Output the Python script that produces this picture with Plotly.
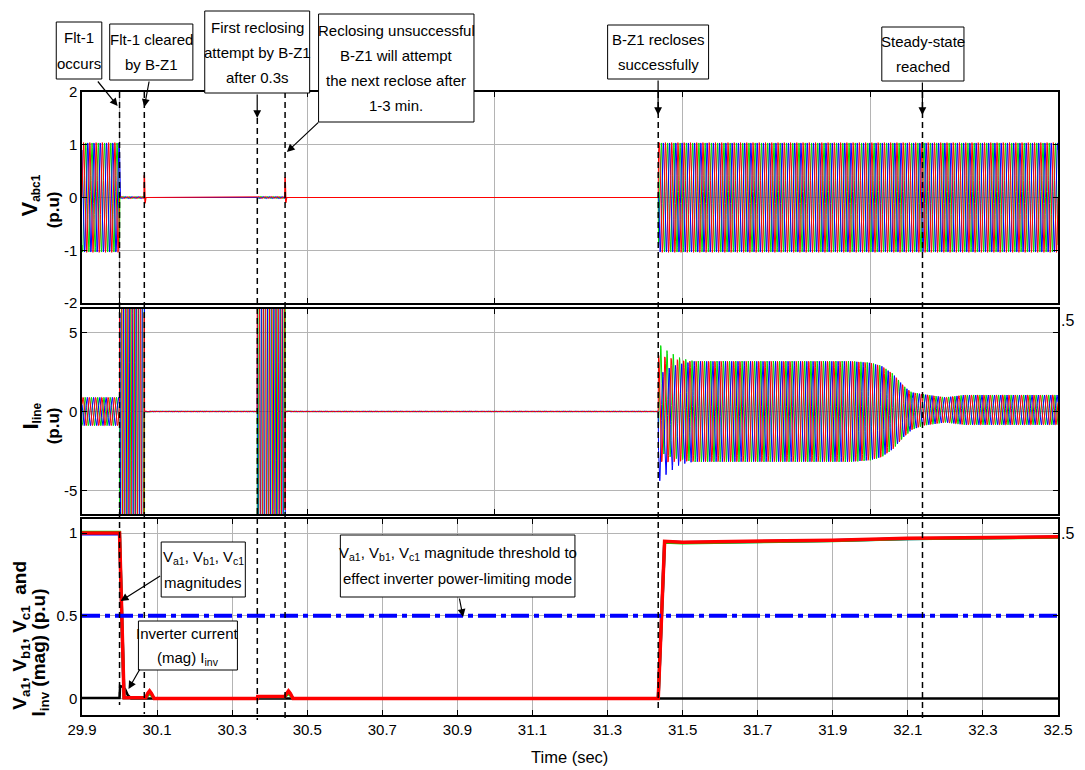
import numpy as np
import plotly.graph_objects as go

# ---------------- data ----------------
F_HZ = 60.0                      # system frequency of the waveforms
T_START, T_END = 29.9, 32.5
DT = 1.0 / 1200.0                # sampling step of the simulated traces

phase_names = ["a", "b", "c"]
phase_colors = ["#ff0000", "#00dd00", "#0000ff"]
phase_shift_deg = [0.0, -120.0, 120.0]

# event instants (s): fault, clearing, 1st reclose, re-trip, successful reclose, steady state
event_times = [30.0, 30.066, 30.367, 30.441, 31.435, 32.139]

# panel 1 : V_abc1 amplitude envelope (p.u.)
v_env_t = [29.9, 30.0, 30.0005, 30.066, 30.0665, 30.367, 30.3675, 30.441, 30.4415, 31.435, 31.4355, 32.5]
v_env_a = [1.04, 1.04, 0.02, 0.02, 0.0, 0.0, 0.02, 0.02, 0.0, 0.0, 1.04, 1.04]
# breaker-opening spikes on V_abc1
v_spike_t = [30.066, 30.441]
v_spike_peak = [0.42, 0.39]
v_spike_dip = [-0.11, -0.10]

# panel 2 : I_line amplitude envelope (p.u.)  (30 = off-scale fault current)
i_env_t = [29.9, 30.0, 30.0005, 30.066, 30.0665, 30.367, 30.3675, 30.441, 30.4415, 31.435, 31.4355,
           31.47, 31.5, 31.95, 32.0, 32.03, 32.06, 32.09, 32.11, 32.14, 32.2, 32.25, 32.5]
i_env_a = [0.9, 0.9, 30.0, 30.0, 0.03, 0.03, 30.0, 30.0, 0.03, 0.03, 3.4,
           3.3, 3.2, 3.2, 3.1, 2.9, 2.4, 1.6, 1.2, 1.0, 0.8, 0.95, 0.95]
# per-phase offset of I_line after reclosing (p.u.)
i_dc_t = [29.9, 31.435, 31.4355, 31.46, 31.49, 31.53, 32.1, 32.14, 32.5]
i_dc_a = [0.0, 0.0, 0.2, 0.1, 0.05, 0.0, 0.0, 0.1, 0.1]
i_dc_b = [0.0, 0.0, 0.9, 0.5, 0.2, 0.0, 0.0, 0.1, 0.1]
i_dc_c = [0.0, 0.0, -1.1, -0.6, -0.2, 0.0, 0.0, 0.1, 0.1]

# panel 3 : voltage magnitudes (p.u.)
vmag_t = [29.9, 30.0, 30.012, 30.07, 30.075, 30.08, 30.085, 30.092, 30.367, 30.368, 30.44, 30.445,
          30.45, 30.455, 30.462, 31.435, 31.452, 31.5, 31.7, 31.9, 32.1, 32.3, 32.5]
vmag_a = [1.0, 1.0, 0.005, 0.005, 0.03, 0.045, 0.03, 0.0, 0.0, 0.012, 0.012, 0.03,
          0.045, 0.03, 0.0, 0.0, 0.95, 0.945, 0.95, 0.957, 0.968, 0.972, 0.978]
vmag_b = [1.005, 1.005, 0.005, 0.005, 0.02, 0.03, 0.02, 0.0, 0.0, 0.01, 0.01, 0.02,
          0.03, 0.02, 0.0, 0.0, 0.945, 0.94, 0.945, 0.953, 0.965, 0.97, 0.975]
vmag_c = [0.995, 0.995, 0.005, 0.005, 0.025, 0.035, 0.025, 0.0, 0.0, 0.01, 0.01, 0.025,
          0.04, 0.025, 0.0, 0.0, 0.948, 0.943, 0.948, 0.955, 0.966, 0.971, 0.976]
# inverter current magnitude (p.u.)
iinv_t = [29.9, 30.0, 30.0015, 30.008, 30.015, 30.022, 30.031, 32.5]
iinv_v = [0.003, 0.003, 0.075, 0.07, 0.055, 0.02, 0.0, 0.0]
# power-limiting threshold
thr_t = [29.9, 32.5]
thr_v = [0.5, 0.5]

x_tick_labels = ["29.9", "30.1", "30.3", "30.5", "30.7", "30.9", "31.1", "31.3", "31.5",
                 "31.7", "31.9", "32.1", "32.3", "32.5"]
x_grid_top = [30.0, 30.5, 31.0, 31.5, 32.0]
y1_ticks = [-2, -1, 0, 1, 2]
y2_ticks = [-5, 0, 5]
y3_ticks = [0, 0.5, 1]
y3_labels = ["0", "0.5", "1"]

# ---------------- figure ----------------
FONT = "Liberation Sans, Arial, sans-serif"
# the page body has an 8 px margin: the figure is 8 px smaller and page coords are used below
W, H = 1077, 762
L, R, T, B = 74, 17, 84, 55
PW, PH = W - L - R, H - T - B
PLOT_LEFT, PLOT_BOTTOM = 82, 715   # page px


def px(xp):
    return (xp - PLOT_LEFT) / PW


def py(yp):
    return (PLOT_BOTTOM - yp) / PH


t = np.arange(T_START, T_END + DT / 2, DT)
fig = go.Figure()

dc_list = [i_dc_a, i_dc_b, i_dc_c]
order = [1, 2, 0]
# panel 1
env_v = np.interp(t, v_env_t, v_env_a)
for k in order:
    w = 2 * np.pi * F_HZ * t + np.deg2rad(phase_shift_deg[k])
    fig.add_trace(go.Scatter(x=t, y=env_v * np.sin(w), mode="lines",
                             line=dict(color=phase_colors[k], width=1),
                             xaxis="x", yaxis="y", showlegend=False, hoverinfo="skip"))
for ts, pk, dp in zip(v_spike_t, v_spike_peak, v_spike_dip):
    fig.add_trace(go.Scatter(x=[ts - 0.0005, ts, ts + 0.002, ts + 0.004],
                             y=[0, pk, dp, 0], mode="lines",
                             line=dict(color="#ff0000", width=1.5),
                             xaxis="x", yaxis="y", showlegend=False, hoverinfo="skip"))
# panel 2
env_i = np.interp(t, i_env_t, i_env_a)
for k in order:
    w = 2 * np.pi * F_HZ * t + np.deg2rad(phase_shift_deg[k] + 30)
    dc = np.interp(t, i_dc_t, dc_list[k])
    fig.add_trace(go.Scatter(x=t, y=env_i * np.sin(w) + dc, mode="lines",
                             line=dict(color=phase_colors[k], width=1),
                             xaxis="x2", yaxis="y2", showlegend=False, hoverinfo="skip"))
# panel 3
fig.add_trace(go.Scatter(x=iinv_t, y=iinv_v, mode="lines", line=dict(color="black", width=2.5),
                         xaxis="x3", yaxis="y3", showlegend=False, hoverinfo="skip"))
for k, vm in zip([2, 1, 0], [vmag_c, vmag_b, vmag_a]):
    fig.add_trace(go.Scatter(x=vmag_t, y=vm, mode="lines",
                             line=dict(color=phase_colors[k], width=3.5 if k == 0 else 3),
                             xaxis="x3", yaxis="y3", showlegend=False, hoverinfo="skip"))
fig.add_trace(go.Scatter(x=thr_t, y=thr_v, mode="lines",
                         line=dict(color="#0000ff", width=4, dash="18px,5px,5px,5px"),
                         xaxis="x3", yaxis="y3", showlegend=False, hoverinfo="skip"))

axis_common = dict(showline=True, linecolor="black", linewidth=1.5, mirror="allticks",
                   ticks="inside", ticklen=5, tickwidth=1, tickcolor="black",
                   showgrid=True, gridcolor="#b4b4b4", gridwidth=1, zeroline=False,
                   tickfont=dict(family=FONT, size=15, color="black"))

dom1 = [py(303), 1.0]
dom2 = [py(514), py(309)]
dom3 = [0.0, py(519)]

fig.update_layout(
    width=W, height=H, margin=dict(l=L, r=R, t=T, b=B),
    paper_bgcolor="white", plot_bgcolor="white", showlegend=False,
    xaxis=dict(axis_common, domain=[0, 1], anchor="y", range=[T_START, T_END],
               tickvals=x_grid_top, showticklabels=False),
    xaxis2=dict(axis_common, domain=[0, 1], anchor="y2", range=[T_START, T_END],
                tickvals=x_grid_top, showticklabels=False),
    xaxis3=dict(axis_common, domain=[0, 1], anchor="y3", range=[T_START, T_END],
                tickvals=[float(s) for s in x_tick_labels], ticktext=x_tick_labels),
    yaxis=dict(axis_common, domain=dom1, anchor="x", range=[-2, 2],
               tickvals=y1_ticks, ticktext=[str(v) for v in y1_ticks]),
    yaxis2=dict(axis_common, domain=dom2, anchor="x2", range=[-6.5, 6.5],
                tickvals=y2_ticks, ticktext=[str(v) for v in y2_ticks]),
    yaxis3=dict(axis_common, domain=dom3, anchor="x3", range=[-0.1, 1.085],
                tickvals=y3_ticks, ticktext=y3_labels),
)

shapes = []
# dashed event lines (top px, bottom px)
dash_extent = [(92, 705), (92, 714), (118, 720), (92, 722), (92, 710), (92, 720)]
for te, (ytop, ybot) in zip(event_times, dash_extent):
    shapes.append(dict(type="line", xref="x3", yref="paper", x0=te, x1=te,
                       y0=py(ytop), y1=py(ybot), line=dict(color="black", width=1.5, dash="6px,4px")))

# text boxes: (x0, y0, x1, y1) in page px, lines of text
LINE_STEP = 25
boxes = [
    ((56, 22, 102, 79), ["Flt-1", "occurs"]),
    ((110, 24, 194, 80), ["Flt-1 cleared", "by B-Z1"]),
    ((206, 11, 312, 93), ["First reclosing", "attempt by B-Z1", "after 0.3s"]),
    ((321, 14, 478, 122), ["Reclosing unsuccessful", "B-Z1 will attempt", "the next reclose after", "1-3 min."]),
    ((613, 25, 715, 79), ["B-Z1 recloses", "successfully"]),
    ((890, 27, 973, 81), ["Steady-state", "reached"]),
    ((162, 542, 247, 597), ["V<sub>a1</sub>, V<sub>b1</sub>, V<sub>c1</sub>", "magnitudes"]),
    ((139, 621, 239, 670), ["Inverter current", "(mag) I<sub>inv</sub>"]),
    ((343, 535, 580, 597), ["V<sub>a1</sub>, V<sub>b1</sub>, V<sub>c1</sub> magnitude threshold to",
                            "effect inverter power-limiting mode"]),
]
annotations = []
for (x0, y0, x1, y1), lines in boxes:
    shapes.append(dict(type="rect", xref="paper", yref="paper", x0=px(x0), x1=px(x1),
                       y0=py(y0), y1=py(y1), line=dict(color="black", width=1), fillcolor="white",
                       layer="above"))
    n = len(lines)
    cy = (y0 + y1) / 2
    for i, txt in enumerate(lines):
        ly = cy + (i - (n - 1) / 2) * LINE_STEP
        annotations.append(dict(xref="paper", yref="paper", x=px((x0 + x1) / 2), y=py(ly),
                                text=txt, showarrow=False, xanchor="center", yanchor="middle",
                                font=dict(family=FONT, size=15, color="black")))

# arrows: tail (px) -> tip (px)
arrows = [
    ((97, 80), (118, 106)),
    ((150, 80), (145, 107)),
    ((259, 93), (259, 118)),
    ((322, 121), (289, 152)),
    ((664, 79), (664, 115)),
    ((931, 81), (931, 115)),
    ((162, 575), (121, 601)),
    ((141, 668), (129, 689)),
    ((463, 597), (467, 617)),
]
for (tx, ty), (hx, hy) in arrows:
    annotations.append(dict(xref="paper", yref="paper", x=px(hx), y=py(hy), ax=tx - hx, ay=ty - hy,
                            axref="pixel", ayref="pixel", text="", showarrow=True, arrowhead=2,
                            arrowsize=1.3, arrowwidth=1.2, arrowcolor="black"))

# y-axis titles, one rotated annotation per line: (x_center, y_center, text, size)
ytitles = [
    (29, 196, "<b><span style='font-size:22px'>V</span><sub>abc1</sub></b>", 17),
    (53, 210, "<b>(p.u)</b>", 17),
    (30, 416, "<b><span style='font-size:22px'>I</span><sub>line</sub></b>", 17),
    (53, 426, "<b>(p.u)</b>", 17),
    (20, 635, "<b>V<sub>a1</sub>, V<sub>b1</sub>, V<sub>c1</sub>  and</b>", 19),
    (40, 652, "<b>I<sub>inv</sub> (mag) (p.u)</b>", 19),
]
for xc, yc, txt, sz in ytitles:
    annotations.append(dict(xref="paper", yref="paper", x=px(xc), y=py(yc), xanchor="center",
                            yanchor="middle", textangle=-90, showarrow=False, text=txt,
                            font=dict(family=FONT, size=sz, color="black")))

annotations += [
    dict(xref="paper", yref="paper", x=px(574), y=py(757), xanchor="center", yanchor="middle",
         text="Time (sec)", showarrow=False, font=dict(family=FONT, size=16.5, color="black")),
    dict(xref="paper", yref="paper", x=px(1069), y=py(320), xanchor="left", yanchor="middle",
         text=".5", showarrow=False, font=dict(family=FONT, size=16, color="black")),
    dict(xref="paper", yref="paper", x=px(1069), y=py(533), xanchor="left", yanchor="middle",
         text=".5", showarrow=False, font=dict(family=FONT, size=16, color="black")),
]

fig.update_layout(shapes=shapes, annotations=annotations)
fig.write_html("out.html")
